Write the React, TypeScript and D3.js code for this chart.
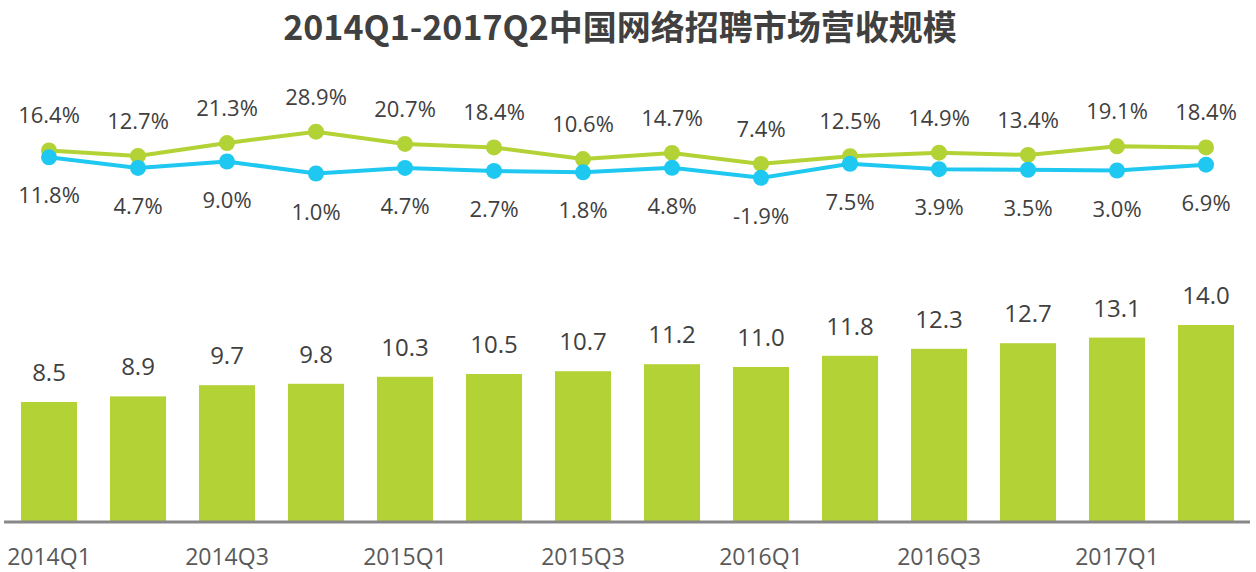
import React from 'react';
import * as d3 from 'd3';

const title = '2014Q1-2017Q2中国网络招聘市场营收规模';
const quarters = [
    '2014Q1', '2014Q2', '2014Q3', '2014Q4',
    '2015Q1', '2015Q2', '2015Q3', '2015Q4',
    '2016Q1', '2016Q2', '2016Q3', '2016Q4',
    '2017Q1', '2017Q2'
];
// revenue (bars)
const revenue = [8.5, 8.9, 9.7, 9.8, 10.3, 10.5, 10.7, 11.2, 11.0, 11.8, 12.3, 12.7, 13.1, 14.0];
// year-on-year growth, % (green line)
const yoy = [16.4, 12.7, 21.3, 28.9, 20.7, 18.4, 10.6, 14.7, 7.4, 12.5, 14.9, 13.4, 19.1, 18.4];
// quarter-on-quarter growth, % (blue line)
const qoq = [11.8, 4.7, 9.0, 1.0, 4.7, 2.7, 1.8, 4.8, -1.9, 7.5, 3.9, 3.5, 3.0, 6.9];
const tickLabels = ['2014Q1', '2014Q3', '2015Q1', '2015Q3', '2016Q1', '2016Q3', '2017Q1'];

const W = 1256;
const H = 572;
const GREEN = '#b2d235';
const BLUE = '#1ec8f0';
const TEXT = '#404040';
const FONT = '"Open Sans", "Noto Sans", sans-serif';

const App = () => {
    const x = d3.scaleBand<string>()
        .domain(quarters)
        .range([4.5, 1250.5])
        .paddingInner(0.37)
        .paddingOuter(0.185);
    const cx = (q: string) => (x(q) as number) + x.bandwidth() / 2;

    const baseY = 521;
    const yBar = d3.scaleLinear().domain([0, 14]).range([baseY, 325]);
    const yLine = d3.scaleLinear().domain([0, 30]).range([175, 130]);

    const lineGen = d3.line<number>()
        .x((_, i) => cx(quarters[i]))
        .y(d => yLine(d));

    return (
        <svg width={W} height={H} style={{ position: 'absolute', left: 0, top: 0, background: '#fff' }}>
            <text x={620} y={40} textAnchor="middle" fontFamily={'"Noto Sans CJK SC", sans-serif'}
                fontWeight="bold" fontSize={34} fill={TEXT}>{title}</text>

            {/* bars */}
            {revenue.map((v, i) => (
                <g key={'b' + i}>
                    <rect x={x(quarters[i])} y={yBar(v)} width={x.bandwidth()} height={baseY - yBar(v)} fill={GREEN} />
                    <text x={cx(quarters[i])} y={yBar(v) - 21} textAnchor="middle" fontFamily={FONT}
                        fontSize={24} fill={TEXT}>{v.toFixed(1)}</text>
                </g>
            ))}

            {/* axis */}
            <line x1={4} x2={1250} y1={baseY + 1} y2={baseY + 1} stroke="#888" strokeWidth={3} />
            {tickLabels.map(t => (
                <text key={t} x={cx(t)} y={565} textAnchor="middle" fontFamily={FONT}
                    fontSize={23} fill="#595959">{t}</text>
            ))}

            {/* lines */}
            <path d={lineGen(yoy) || ''} fill="none" stroke={GREEN} strokeWidth={4} />
            <path d={lineGen(qoq) || ''} fill="none" stroke={BLUE} strokeWidth={4} />
            {yoy.map((v, i) => (
                <g key={'g' + i}>
                    <circle cx={cx(quarters[i])} cy={yLine(v)} r={8} fill={GREEN} />
                    <text x={cx(quarters[i])} y={yLine(v) - 27} textAnchor="middle" fontFamily={FONT}
                        fontSize={22} fill={TEXT}>{v.toFixed(1) + '%'}</text>
                </g>
            ))}
            {qoq.map((v, i) => (
                <g key={'q' + i}>
                    <circle cx={cx(quarters[i])} cy={yLine(v)} r={8} fill={BLUE} />
                    <text x={cx(quarters[i])} y={yLine(v) + 46} textAnchor="middle" fontFamily={FONT}
                        fontSize={22} fill={TEXT}>{v.toFixed(1) + '%'}</text>
                </g>
            ))}
        </svg>
    );
};

export default App;
